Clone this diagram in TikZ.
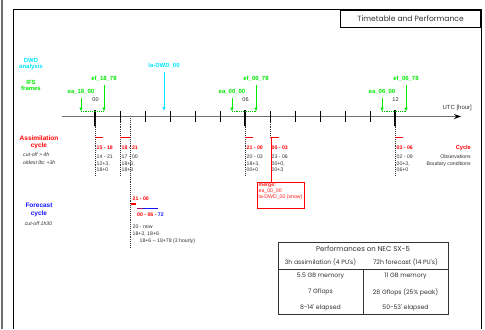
\documentclass[tikz,border=0pt]{standalone}
\usepackage{fontspec}
\setmainfont{Liberation Sans}
\newfontfamily\geo{Poppins}
\usetikzlibrary{arrows.meta}
\definecolor{gr}{RGB}{0,235,0}
\definecolor{cy}{RGB}{0,230,255}
\definecolor{rd}{RGB}{255,0,0}
\definecolor{bl}{RGB}{20,20,255}
\definecolor{ax}{RGB}{110,110,110}
\definecolor{tx}{RGB}{50,50,50}
\tikzset{
  sm/.style={inner sep=0pt, font=\fontsize{5.2}{6}\selectfont, text=tx},
  smi/.style={sm, font=\fontsize{5.2}{6}\selectfont\itshape},
  lbl/.style={inner sep=0pt, font=\bfseries\fontsize{6}{7}\selectfont},
  head/.style={inner sep=0pt, align=center, font=\bfseries\fontsize{6.5}{7.2}\selectfont},
  rsm/.style={inner sep=0pt, font=\bfseries\fontsize{5.2}{6}\selectfont, text=rd, anchor=west},
  garrow/.style={draw=gr, line width=0.9bp, -{Latex[length=4bp,width=3.5bp]}},
  gdash/.style={draw=gr!80!black, line width=0.8bp, densely dotted},
  vdot/.style={draw=black!80, line width=0.9bp, densely dotted},
  tick/.style={draw=black, line width=0.8bp},
  btick/.style={draw=black, line width=1.4bp},
  rbar/.style={draw=rd, line width=1.3bp},
  tbl/.style={inner sep=0pt, font=\geo\fontsize{6.2}{7}\selectfont, text=tx},
}
\begin{document}
\begin{tikzpicture}[x=1bp,y=-1bp]
\useasboundingbox (0,0) rectangle (485,329);
\fill[white] (0,0) rectangle (485,329);
% frames
\draw[ax, line width=2bp] (2,0) -- (2,329);
\draw[black, line width=0.8bp] (13,329) -- (13,9.5) -- (481,9.5) -- (481,329);
\node[draw, line width=0.8bp, minimum width=140bp, minimum height=17.5bp, anchor=north east, inner sep=0pt,
      font=\geo\fontsize{7.6}{9}\selectfont, text=tx] (title) at (481,9.5) {Timetable and Performance};

% left labels
\node[head, text=cy, font=\bfseries\fontsize{6}{6.4}\selectfont] (dwd) at (31,64) {DWD\\analysis};
\node[head, text=gr, font=\bfseries\fontsize{6}{6.8}\selectfont] (ifs) at (31,85.5) {IFS\\frames};
\node[head, text=rd] (assim) at (39,142.5) {Assimilation\\cycle};
\node[smi, anchor=west] (co1) at (23,155) {cut-off > 4h};
\node[smi, anchor=west] (co2) at (23,163) {oldest lbc +3h};
\node[head, text=bl] (fc) at (39,210) {Forecast\\cycle};
\node[smi] (co3) at (38.5,224) {cut-off 1h30};

% axis
\coordinate (axs) at (62,116.5);
\coordinate (axe) at (461,116.5);
\draw[ax, line width=1.8bp, -{Stealth[length=7bp,width=5bp,black]}] (axs) -- (axe);
\node[sm, anchor=east, font=\fontsize{6}{7}\selectfont] (utc) at (472,108) {UTC [hour]};

% hour ticks
\foreach \i in {1,2,3,4,5,7,8,9,10,11}{
  \coordinate (ta\i) at ({95+25*\i},111);
  \coordinate (tb\i) at ({95+25*\i},122);
  \draw[tick] (ta\i) -- (tb\i);
}
\foreach \i/\hh in {0/00,6/06,12/12}{
  \coordinate (ma\i) at ({95+25*\i},110);
  \coordinate (mb\i) at ({95+25*\i},126);
  \draw[btick] (ma\i) -- (mb\i);
  \node[sm, font=\fontsize{5.6}{6}\selectfont] (hr\i) at ({95.5+25*\i},99.5) {\hh};
}

% IFS frames arrows
\foreach \e/\x/\y in {18/81/104, 00/232/256, 06/382/406}{
  \node[lbl, text=gr] (ea\e) at (\x,91.5) {ea\_\e\_00};
  \node[lbl, text=gr] (ef\e) at (\y,79) {ef\_\e\_78};
  \coordinate (eas\e) at (\x,98);
  \coordinate (eae\e) at (\x,111.5);
  \coordinate (efs\e) at (\y,85);
  \coordinate (efe\e) at (\y,111.5);
  \draw[garrow] (eas\e) -- (eae\e);
  \draw[garrow] (efs\e) -- (efe\e);
  \draw[gdash] (eae\e) -- (efe\e);
}

% DWD analysis arrow
\node[lbl, text=cy] (ladwd) at (164,66) {la-DWD\_00};
\coordinate (las) at (164,72);
\coordinate (lae) at (164,111);
\draw[draw=cy, line width=0.9bp, -{Latex[length=4bp,width=3.5bp]}] (las) -- (lae);

% dotted verticals
\foreach \nm/\x/\b in {d0/95/175, d1/120/175, d6/245/175, d12/395/175, df/130.5/248}{
  \coordinate (\nm s) at (\x,118);
  \coordinate (\nm e) at (\x,\b);
  \draw[vdot] (\nm s) -- (\nm e);
}
\coordinate (d7s) at (270,118);
\coordinate (d7e) at (270,136);
\draw[vdot] (d7s) -- (d7e);

% assimilation blocks
\foreach \nm/\x/\w/\c/\o/\ba/\bb in {
  a0/95/8/{15 - 18}/{14 - 21}/{12+3,}/{18+0},
  a1/120/10/{18 - 21}/{17 - 00}/{18+0,}/{18+3},
  a6/245/8/{21 - 00}/{20 - 03}/{18+3,}/{00+0},
  a7/270/9/{00 - 03}/{23 - 06}/{00+0,}/{00+3},
  a12/395/8/{03 - 06}/{02 - 09}/{00+3,}/{06+0}}{
  \coordinate (\nm p) at (\x,137.5);
  \coordinate (\nm q) at (\x+\w,137.5);
  \draw[rbar] (\nm p) -- (\nm q);
  \node[rsm] (\nm c) at (\x+1.5,148) {\c};
  \node[sm, anchor=west] (\nm o) at (\x+1.5,157) {\o};
  \node[sm, anchor=west] (\nm b) at (\x+1.5,164) {\ba};
  \node[sm, anchor=west] (\nm d) at (\x+1.5,170) {\bb};
}

% merge box
\node[draw=rd, line width=0.9bp, minimum width=47bp, minimum height=26bp, anchor=north west, inner sep=0pt] (merge) at (257,182) {};
\node[inner sep=0pt, anchor=north west, align=left, text=rd!90, font=\fontsize{5.2}{6}\selectfont] (mtxt) at (258.5,184) {\textbf{merge:}\\ea\_00\_00\\la-DWD\_00 (snow)};
\coordinate (mtop) at (271,182);
\coordinate (mbar) at (271,137.5);
\draw[draw=rd, line width=0.9bp] (mbar) -- (mtop);

% right legend
\node[inner sep=0pt, anchor=east, text=rd, font=\bfseries\fontsize{5.6}{6}\selectfont] (lcyc) at (471,148) {Cycle};
\node[sm, anchor=east] (lobs) at (471,157) {Observations};
\node[sm, anchor=east] (lbc) at (471,164) {Boudary conditions};

% forecast block
\coordinate (fr1) at (130.5,204);
\coordinate (fr2) at (135.5,204);
\draw[rbar] (fr1) -- (fr2);
\node[rsm] (fcc) at (132.5,199) {21 - 00};
\coordinate (fb1) at (137,208.7);
\coordinate (fb2) at (158,208.7);
\coordinate (fb3) at (143,208.7);
\draw[draw=bl, line width=1.3bp] (fb1) -- (fb2);
\draw[draw=rd!60!bl, line width=1.3bp] (fb1) -- (fb3);
\node[inner sep=0pt, anchor=west, font=\bfseries\fontsize{5.2}{6}\selectfont] (fcr) at (137,214.5) {\textcolor{rd}{00 - 06 -} \textcolor{bl}{72}};
\node[sm, anchor=west] (fnow) at (132.5,226.5) {20 - now};
\node[sm, anchor=west] (f36) at (132.5,234) {18+3, 18+6};
\node[sm, anchor=west] (f78) at (139.5,241) {18+6 -- 18+78 (3 hourly)};

% performance table
\coordinate (tnw) at (278,242);
\coordinate (tse) at (448,314);
\draw[tx, line width=0.8bp] (tnw) rectangle (tse);
\coordinate (hl1) at (278,269);
\coordinate (hl2) at (448,269);
\draw[tx, line width=0.8bp] (hl1) -- (hl2);
\coordinate (vl1) at (363,269);
\coordinate (vl2) at (363,314);
\draw[tx, line width=0.8bp] (vl1) -- (vl2);
\node[tbl, font=\geo\fontsize{7}{8}\selectfont] (ttl) at (363,248.5) {Performances on NEC SX-5};
\node[tbl] (c1h) at (320.5,262) {3h assimilation (4 PU's)};
\node[tbl] (c2h) at (405.5,262) {72h forecast (14 PU's)};
\node[tbl] (c1a) at (320.5,276.5) {5.5 GB memory};
\node[tbl] (c2a) at (405.5,276.5) {11 GB memory};
\node[tbl] (c1b) at (320.5,292) {7 Gflops};
\node[tbl] (c2b) at (405.5,292) {28 Gflops (25\% peak)};
\node[tbl] (c1c) at (320.5,307.5) {8-14' elapsed};
\node[tbl] (c2c) at (405.5,307.5) {50-53' elapsed};
\end{tikzpicture}
\end{document}
